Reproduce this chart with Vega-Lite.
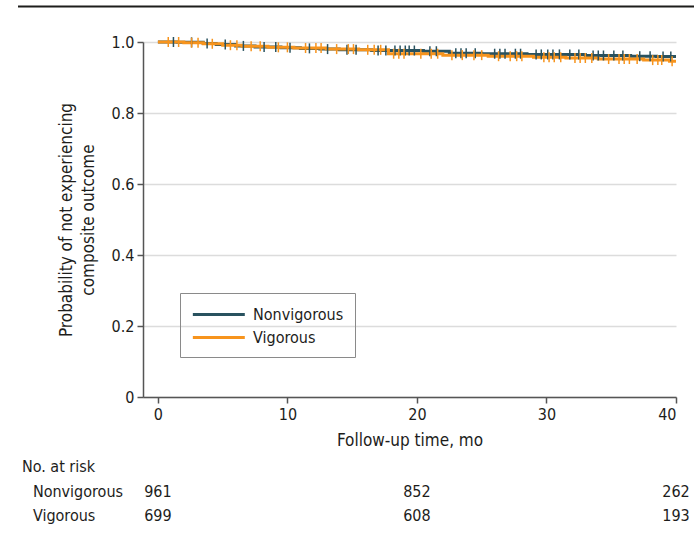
{
  "$schema": "https://vega.github.io/schema/vega-lite/v6.json",
  "width": 533,
  "height": 355,
  "autosize": {"type": "none"},
  "padding": {"left": 143, "top": 42, "right": 18, "bottom": 146},
  "background": "white",
  "config": {
    "view": {"stroke": null},
    "font": "Liberation Sans Narrow, DejaVu Sans Condensed, sans-serif",
    "axis": {"labelFont": "Liberation Sans Narrow, DejaVu Sans Condensed, sans-serif", "titleFont": "Liberation Sans Narrow, DejaVu Sans Condensed, sans-serif"},
    "legend": {"labelFont": "Liberation Sans Narrow, DejaVu Sans Condensed, sans-serif"}
  },
  "datasets": {
    "km": [
      {"group": "Nonvigorous", "t": 0, "s": 1.0},
      {"group": "Nonvigorous", "t": 1.5, "s": 0.999},
      {"group": "Nonvigorous", "t": 3.5, "s": 0.996},
      {"group": "Nonvigorous", "t": 4.5, "s": 0.993},
      {"group": "Nonvigorous", "t": 6.0, "s": 0.989},
      {"group": "Nonvigorous", "t": 7.5, "s": 0.986},
      {"group": "Nonvigorous", "t": 9.5, "s": 0.984},
      {"group": "Nonvigorous", "t": 11.0, "s": 0.982},
      {"group": "Nonvigorous", "t": 12.5, "s": 0.980},
      {"group": "Nonvigorous", "t": 14.0, "s": 0.978},
      {"group": "Nonvigorous", "t": 16.5, "s": 0.976},
      {"group": "Nonvigorous", "t": 20.5, "s": 0.974},
      {"group": "Nonvigorous", "t": 22.5, "s": 0.968},
      {"group": "Nonvigorous", "t": 25.0, "s": 0.967},
      {"group": "Nonvigorous", "t": 28.5, "s": 0.965},
      {"group": "Nonvigorous", "t": 33.0, "s": 0.962},
      {"group": "Nonvigorous", "t": 36.5, "s": 0.960},
      {"group": "Nonvigorous", "t": 38.5, "s": 0.959},
      {"group": "Nonvigorous", "t": 40.0, "s": 0.959},
      {"group": "Vigorous", "t": 0, "s": 1.0},
      {"group": "Vigorous", "t": 2.0, "s": 0.998},
      {"group": "Vigorous", "t": 3.5, "s": 0.995},
      {"group": "Vigorous", "t": 5.0, "s": 0.991},
      {"group": "Vigorous", "t": 6.5, "s": 0.988},
      {"group": "Vigorous", "t": 8.5, "s": 0.985},
      {"group": "Vigorous", "t": 10.5, "s": 0.983},
      {"group": "Vigorous", "t": 13.0, "s": 0.980},
      {"group": "Vigorous", "t": 15.5, "s": 0.978},
      {"group": "Vigorous", "t": 17.8, "s": 0.967},
      {"group": "Vigorous", "t": 22.0, "s": 0.963},
      {"group": "Vigorous", "t": 25.5, "s": 0.960},
      {"group": "Vigorous", "t": 29.0, "s": 0.957},
      {"group": "Vigorous", "t": 31.5, "s": 0.955},
      {"group": "Vigorous", "t": 34.0, "s": 0.952},
      {"group": "Vigorous", "t": 37.5, "s": 0.949},
      {"group": "Vigorous", "t": 39.5, "s": 0.946},
      {"group": "Vigorous", "t": 40.0, "s": 0.946}
    ],
    "censor": [
      {"group": "Nonvigorous", "t": 1.2, "s": 1.0},
      {"group": "Nonvigorous", "t": 2.6, "s": 0.999},
      {"group": "Nonvigorous", "t": 3.8, "s": 0.996},
      {"group": "Nonvigorous", "t": 5.2, "s": 0.993},
      {"group": "Nonvigorous", "t": 6.6, "s": 0.989},
      {"group": "Nonvigorous", "t": 8.2, "s": 0.986},
      {"group": "Nonvigorous", "t": 9.1, "s": 0.986},
      {"group": "Nonvigorous", "t": 10.2, "s": 0.984},
      {"group": "Nonvigorous", "t": 11.7, "s": 0.982},
      {"group": "Nonvigorous", "t": 13.1, "s": 0.980},
      {"group": "Nonvigorous", "t": 14.6, "s": 0.978},
      {"group": "Nonvigorous", "t": 15.3, "s": 0.978},
      {"group": "Nonvigorous", "t": 17.0, "s": 0.976},
      {"group": "Nonvigorous", "t": 17.6, "s": 0.976},
      {"group": "Nonvigorous", "t": 18.3, "s": 0.976},
      {"group": "Nonvigorous", "t": 18.7, "s": 0.976},
      {"group": "Nonvigorous", "t": 19.1, "s": 0.976},
      {"group": "Nonvigorous", "t": 19.4, "s": 0.976},
      {"group": "Nonvigorous", "t": 19.8, "s": 0.976},
      {"group": "Nonvigorous", "t": 21.0, "s": 0.974},
      {"group": "Nonvigorous", "t": 21.5, "s": 0.974},
      {"group": "Nonvigorous", "t": 23.0, "s": 0.968},
      {"group": "Nonvigorous", "t": 23.4, "s": 0.968},
      {"group": "Nonvigorous", "t": 23.8, "s": 0.968},
      {"group": "Nonvigorous", "t": 24.5, "s": 0.968},
      {"group": "Nonvigorous", "t": 26.0, "s": 0.967},
      {"group": "Nonvigorous", "t": 26.4, "s": 0.967},
      {"group": "Nonvigorous", "t": 26.8, "s": 0.967},
      {"group": "Nonvigorous", "t": 27.6, "s": 0.967},
      {"group": "Nonvigorous", "t": 28.0, "s": 0.967},
      {"group": "Nonvigorous", "t": 29.2, "s": 0.965},
      {"group": "Nonvigorous", "t": 29.6, "s": 0.965},
      {"group": "Nonvigorous", "t": 30.1, "s": 0.965},
      {"group": "Nonvigorous", "t": 30.5, "s": 0.965},
      {"group": "Nonvigorous", "t": 31.0, "s": 0.965},
      {"group": "Nonvigorous", "t": 31.8, "s": 0.965},
      {"group": "Nonvigorous", "t": 32.5, "s": 0.965},
      {"group": "Nonvigorous", "t": 33.6, "s": 0.962},
      {"group": "Nonvigorous", "t": 34.0, "s": 0.962},
      {"group": "Nonvigorous", "t": 34.4, "s": 0.962},
      {"group": "Nonvigorous", "t": 35.2, "s": 0.962},
      {"group": "Nonvigorous", "t": 35.9, "s": 0.962},
      {"group": "Nonvigorous", "t": 37.2, "s": 0.960},
      {"group": "Nonvigorous", "t": 38.0, "s": 0.960},
      {"group": "Nonvigorous", "t": 39.0, "s": 0.959},
      {"group": "Nonvigorous", "t": 39.6, "s": 0.959},
      {"group": "Vigorous", "t": 0.8, "s": 1.0},
      {"group": "Vigorous", "t": 1.6, "s": 1.0},
      {"group": "Vigorous", "t": 2.6, "s": 0.998},
      {"group": "Vigorous", "t": 3.1, "s": 0.998},
      {"group": "Vigorous", "t": 4.2, "s": 0.995},
      {"group": "Vigorous", "t": 5.6, "s": 0.991},
      {"group": "Vigorous", "t": 6.1, "s": 0.991},
      {"group": "Vigorous", "t": 7.2, "s": 0.988},
      {"group": "Vigorous", "t": 7.9, "s": 0.988},
      {"group": "Vigorous", "t": 9.3, "s": 0.985},
      {"group": "Vigorous", "t": 10.0, "s": 0.985},
      {"group": "Vigorous", "t": 11.4, "s": 0.983},
      {"group": "Vigorous", "t": 12.2, "s": 0.983},
      {"group": "Vigorous", "t": 12.6, "s": 0.983},
      {"group": "Vigorous", "t": 13.8, "s": 0.980},
      {"group": "Vigorous", "t": 14.7, "s": 0.980},
      {"group": "Vigorous", "t": 15.1, "s": 0.980},
      {"group": "Vigorous", "t": 16.2, "s": 0.978},
      {"group": "Vigorous", "t": 16.7, "s": 0.978},
      {"group": "Vigorous", "t": 17.2, "s": 0.978},
      {"group": "Vigorous", "t": 18.2, "s": 0.967},
      {"group": "Vigorous", "t": 18.6, "s": 0.967},
      {"group": "Vigorous", "t": 19.0, "s": 0.967},
      {"group": "Vigorous", "t": 20.3, "s": 0.967},
      {"group": "Vigorous", "t": 21.1, "s": 0.967},
      {"group": "Vigorous", "t": 21.6, "s": 0.967},
      {"group": "Vigorous", "t": 22.7, "s": 0.963},
      {"group": "Vigorous", "t": 23.5, "s": 0.963},
      {"group": "Vigorous", "t": 24.4, "s": 0.963},
      {"group": "Vigorous", "t": 25.0, "s": 0.963},
      {"group": "Vigorous", "t": 26.3, "s": 0.960},
      {"group": "Vigorous", "t": 27.2, "s": 0.960},
      {"group": "Vigorous", "t": 27.7, "s": 0.960},
      {"group": "Vigorous", "t": 28.1, "s": 0.960},
      {"group": "Vigorous", "t": 29.8, "s": 0.957},
      {"group": "Vigorous", "t": 30.2, "s": 0.957},
      {"group": "Vigorous", "t": 30.6, "s": 0.957},
      {"group": "Vigorous", "t": 31.1, "s": 0.957},
      {"group": "Vigorous", "t": 32.2, "s": 0.955},
      {"group": "Vigorous", "t": 32.6, "s": 0.955},
      {"group": "Vigorous", "t": 33.0, "s": 0.955},
      {"group": "Vigorous", "t": 33.5, "s": 0.955},
      {"group": "Vigorous", "t": 34.8, "s": 0.952},
      {"group": "Vigorous", "t": 35.6, "s": 0.952},
      {"group": "Vigorous", "t": 36.0, "s": 0.952},
      {"group": "Vigorous", "t": 36.4, "s": 0.952},
      {"group": "Vigorous", "t": 37.0, "s": 0.952},
      {"group": "Vigorous", "t": 38.2, "s": 0.949},
      {"group": "Vigorous", "t": 38.6, "s": 0.949},
      {"group": "Vigorous", "t": 38.9, "s": 0.949},
      {"group": "Vigorous", "t": 39.7, "s": 0.946}
    ],
    "risk": [
      {"group": "Nonvigorous", "t": 0, "n": "961"},
      {"group": "Nonvigorous", "t": 20, "n": "852"},
      {"group": "Nonvigorous", "t": 40, "n": "262"},
      {"group": "Vigorous", "t": 0, "n": "699"},
      {"group": "Vigorous", "t": 20, "n": "608"},
      {"group": "Vigorous", "t": 40, "n": "193"}
    ]
  },
  "layer": [
    {
      "data": {"name": "km"},
      "mark": {"type": "line", "interpolate": "step-after", "strokeWidth": 3},
      "encoding": {
        "x": {
          "field": "t", "type": "quantitative",
          "scale": {"domain": [-1.15, 40], "nice": false, "zero": false},
          "axis": {
            "values": [0, 10, 20, 30, 40], "title": "Follow-up time, mo",
            "domainColor": "#555", "domainWidth": 1.5, "tickColor": "#555", "tickWidth": 1.5, "tickSize": 6,
            "labelFontSize": 16, "labelColor": "#1d1d1b", "labelPadding": 3,
            "titleFontSize": 17, "titleFontWeight": "normal", "titleColor": "#1d1d1b", "titlePadding": 10,
            "grid": false
          }
        },
        "y": {
          "field": "s", "type": "quantitative",
          "scale": {"domain": [0, 1], "nice": false},
          "axis": {
            "values": [0, 0.2, 0.4, 0.6, 0.8, 1.0],
            "labelExpr": "datum.value == 0 ? '0' : format(datum.value, '.1f')",
            "title": ["Probability of not experiencing", "composite outcome"],
            "domainColor": "#555", "domainWidth": 1.5, "tickColor": "#555", "tickWidth": 1.5, "tickSize": 6,
            "labelFontSize": 16, "labelColor": "#1d1d1b", "labelPadding": 3,
            "titleFontSize": 17, "titleFontWeight": "normal", "titleColor": "#1d1d1b", "titlePadding": 14, "titleLineHeight": 22,
            "grid": true, "gridColor": "#dcdcdc", "gridWidth": 1.5
          }
        },
        "color": {
          "field": "group", "type": "nominal",
          "scale": {"domain": ["Nonvigorous", "Vigorous"], "range": ["#29525f", "#f7941d"]},
          "legend": {
            "title": null, "orient": "none", "legendX": 37, "legendY": 251,
            "strokeColor": "#8a8a8a", "padding": 11,
            "symbolType": "M-1,0H5", "symbolSize": 300, "symbolStrokeWidth": 3, "symbolOpacity": 1,
            "labelFontSize": 16, "labelColor": "#1d1d1b", "labelOffset": 41, "rowPadding": 4
          }
        }
      }
    },
    {
      "data": {"name": "censor"},
      "mark": {"type": "tick", "orient": "vertical", "thickness": 1.5, "size": 10, "opacity": 1},
      "encoding": {
        "x": {"field": "t", "type": "quantitative"},
        "y": {"field": "s", "type": "quantitative"},
        "color": {"field": "group", "type": "nominal"}
      }
    },
    {
      "data": {"name": "risk"},
      "transform": [{"filter": "datum.group == 'Nonvigorous'"}],
      "mark": {"type": "text", "fontSize": 16, "color": "#1d1d1b", "align": "center", "baseline": "middle"},
      "encoding": {
        "x": {"field": "t", "type": "quantitative"},
        "y": {"datum": -0.268},
        "text": {"field": "n"}
      }
    },
    {
      "data": {"name": "risk"},
      "transform": [{"filter": "datum.group == 'Vigorous'"}],
      "mark": {"type": "text", "fontSize": 16, "color": "#1d1d1b", "align": "center", "baseline": "middle"},
      "encoding": {
        "x": {"field": "t", "type": "quantitative"},
        "y": {"datum": -0.335},
        "text": {"field": "n"}
      }
    },
    {
      "data": {"values": [{"label": "Nonvigorous"}]},
      "mark": {"type": "text", "fontSize": 16, "color": "#1d1d1b", "align": "left", "baseline": "middle"},
      "encoding": {"x": {"datum": -9.65}, "y": {"datum": -0.268}, "text": {"field": "label"}}
    },
    {
      "data": {"values": [{"label": "Vigorous"}]},
      "mark": {"type": "text", "fontSize": 16, "color": "#1d1d1b", "align": "left", "baseline": "middle"},
      "encoding": {"x": {"datum": -9.65}, "y": {"datum": -0.335}, "text": {"field": "label"}}
    },
    {
      "data": {"values": [{"label": "No. at risk"}]},
      "mark": {"type": "text", "fontSize": 16, "color": "#1d1d1b", "align": "left", "baseline": "middle"},
      "encoding": {"x": {"datum": -10.5}, "y": {"datum": -0.197}, "text": {"field": "label"}}
    },
    {
      "data": {"values": [{}]},
      "mark": {"type": "rule", "color": "#1d1d1b", "strokeWidth": 2},
      "encoding": {"x": {"datum": -10.8}, "x2": {"datum": 41.4}, "y": {"datum": 1.1}}
    }
  ]
}
